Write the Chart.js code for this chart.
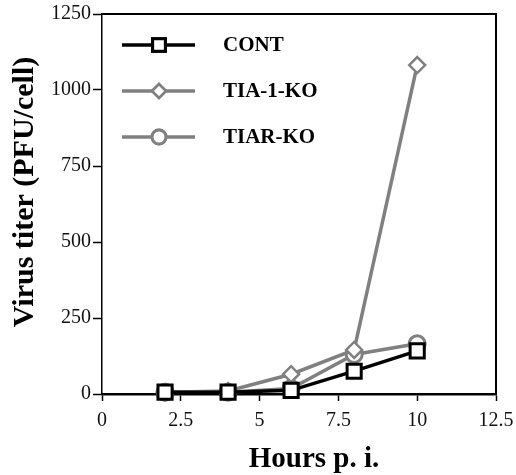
<!DOCTYPE html>
<html>
<head>
<meta charset="utf-8">
<script src="https://cdn.jsdelivr.net/npm/chart.js@4.4.1/dist/chart.umd.min.js"></script>
<style>
  body { margin: 0; background: #fff; }
  #wrap { width: 516px; height: 475px; position: relative; }
</style>
</head>
<body>
<div id="wrap"><canvas id="titerChart"></canvas></div>
<script>
const hours = [2, 4, 6, 8, 10];
const contTiter = [6, 6, 12, 75, 142];
const tia1Titer = [6, 10, 65, 145, 1082];
const tiarTiter = [6, 6, 18, 130, 165];
const seriesNames = ["CONT", "TIA-1-KO", "TIAR-KO"];
const xTicks = [0, 2.5, 5, 7.5, 10, 12.5];
const yTicks = [0, 250, 500, 750, 1000, 1250];
const xTitle = "Hours p. i.";
const yTitle = "Virus titer (PFU/cell)";

const gray = "#808080";
const serif = "'Liberation Serif', 'Times New Roman', serif";

function toPoints(values) {
  return hours.map((h, i) => ({ x: h, y: values[i] }));
}

// legend, axis titles and the box frame
const frameAndLegend = {
  id: "frameAndLegend",
  afterDraw(chart) {
    const { ctx, chartArea: { top, right, left, bottom } } = chart;
    ctx.save();
    ctx.strokeStyle = "#000";
    ctx.lineWidth = 2;
    ctx.beginPath();
    ctx.moveTo(left, top);
    ctx.lineTo(right, top);
    ctx.lineTo(right, bottom);
    ctx.stroke();

    chart.data.datasets.forEach((ds, i) => {
      const y = 45 + i * 46;
      ctx.strokeStyle = ds.borderColor;
      ctx.lineWidth = ds.borderWidth;
      ctx.beginPath();
      ctx.moveTo(122, y);
      ctx.lineTo(195, y);
      ctx.stroke();
      ctx.fillStyle = "#fff";
      ctx.strokeStyle = ds.pointBorderColor;
      ctx.lineWidth = ds.pointBorderWidth;
      Chart.helpers.drawPoint(ctx, {
        pointStyle: ds.pointStyle,
        radius: ds.pointRadius - 1,
        rotation: 0,
        borderWidth: ds.pointBorderWidth
      }, 159, y);
      ctx.fill();
      ctx.stroke();
      ctx.fillStyle = "#000";
      ctx.font = "bold 21px " + serif;
      ctx.textBaseline = "middle";
      ctx.fillText(ds.label, 223, y + 1);
    });

    ctx.fillStyle = "#000";
    ctx.font = "bold 29px " + serif;
    ctx.textAlign = "center";
    ctx.textBaseline = "alphabetic";
    ctx.fillText(xTitle, 314, 467);

    ctx.translate(25, 192);
    ctx.rotate(-Math.PI / 2);
    ctx.font = "bold 30px " + serif;
    ctx.textBaseline = "middle";
    ctx.fillText(yTitle, 0, 0);
    ctx.restore();
  }
};

new Chart(document.getElementById("titerChart"), {
  type: "line",
  data: {
    datasets: [
      {
        label: seriesNames[0],
        data: toPoints(contTiter),
        borderColor: "#000",
        borderWidth: 3.5,
        pointStyle: "rect",
        pointRadius: 10,
        pointBorderWidth: 3,
        pointBorderColor: "#000",
        pointBackgroundColor: "#fff",
      },
      {
        label: seriesNames[1],
        data: toPoints(tia1Titer),
        borderColor: gray,
        borderWidth: 3.5,
        pointStyle: "rectRot",
        pointRadius: 8,
        pointBorderWidth: 2.5,
        pointBorderColor: gray,
        pointBackgroundColor: "#fff",
      },
      {
        label: seriesNames[2],
        data: toPoints(tiarTiter),
        borderColor: gray,
        borderWidth: 3.5,
        pointStyle: "circle",
        pointRadius: 8,
        pointBorderWidth: 3,
        pointBorderColor: gray,
        pointBackgroundColor: "#fff",
      },
    ],
  },
  options: {
    responsive: true,
    maintainAspectRatio: false,
    animation: false,
    layout: { padding: { left: 0, right: 20, top: 13, bottom: 0 } },
    clip: false,
    plugins: {
      legend: { display: false },
      tooltip: { enabled: false },
    },
    scales: {
      x: {
        type: "linear",
        min: 0,
        max: 12.5,
        afterBuildTicks: (axis) => { axis.ticks = xTicks.map((v) => ({ value: v })); },
        afterFit: (axis) => {
          axis.height = 81;
          axis.paddingRight = 0;
          axis.paddingLeft = 0;
        },
        ticks: {
          color: "#111",
          font: { family: serif, size: 20 },
          padding: 8,
          maxRotation: 0,
          autoSkip: false,
          callback: (v) => String(v),
        },
        grid: { drawOnChartArea: false, tickLength: 7, tickWidth: 1.5, color: "#000" },
        border: { color: "#000", width: 2.5 },
      },
      y: {
        min: 0,
        max: 1250,
        afterBuildTicks: (axis) => { axis.ticks = yTicks.map((v) => ({ value: v })); },
        afterFit: (axis) => { axis.width = 102; },
        ticks: {
          color: "#111",
          font: { family: serif, size: 20 },
          padding: 2,
          autoSkip: false,
          callback: (v) => String(v),
        },
        grid: { drawOnChartArea: false, tickLength: 9, tickWidth: 1.5, color: "#000" },
        border: { color: "#000", width: 1.5 },
      },
    },
  },
  plugins: [frameAndLegend],
});
</script>
</body>
</html>
